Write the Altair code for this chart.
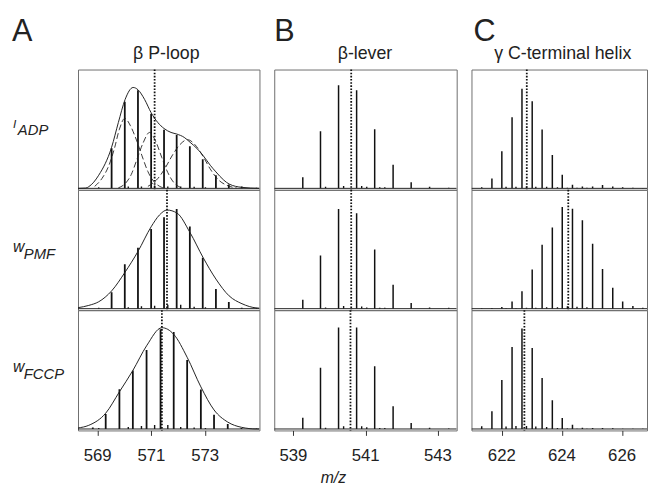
import altair as alt
import pandas as pd

FONT = "Liberation Sans"
PH = 122                # height of one panel row
YDOM = [-1.5, 120.5]    # intensity axis (arbitrary units)

# ---------------- Column A : beta P-loop ----------------
A_DOMAIN = [568.27, 575.02]
A_TICKS = [569, 571, 573]
A_MZ_12 = [569.52, 570.01, 570.50, 570.99, 571.47, 571.94, 572.43, 572.91, 573.40, 573.88, 574.36]
A1_INT = [40.7, 87.7, 99.4, 75.7, 59.4, 54.0, 42.7, 29.4, 13.4, 4.0, 2.0]
A2_INT = [16.7, 45.0, 61.7, 80.7, 92.7, 101.0, 83.3, 51.7, 20.0, 6.7, 1.0]
A_MZ_3 = [568.82, 569.30, 569.81, 570.31, 570.82, 571.34, 571.83, 572.33, 572.84, 573.33, 573.84, 574.35]
A3_INT = [1.5, 15.3, 40.3, 59.3, 80.0, 101.0, 98.3, 70.0, 40.0, 14.3, 5.0, 1.0]
A_SMALL_MZ = [569.04, 570.14, 570.63, 571.12, 571.61, 572.09, 572.59, 573.01, 574.91]
A1_SMALL = [1.0, 2.0, 2.0, 3.0, 2.0, 2.0, 1.5, 1.0, 0.5]
A2_SMALL = [1.0, 1.5, 2.5, 3.0, 4.0, 4.0, 2.0, 1.5, 1.0]
A3_SMALL = [1.0, 2.0, 3.0, 4.0, 4.0, 2.0, 1.5, 1.0, 0.5]

A1_ENV_MZ = [568.27, 568.56, 568.67, 569.04, 569.52, 569.77, 570.02, 570.32, 570.50, 570.75, 570.99,
             571.24, 571.47, 571.73, 571.95, 572.22, 572.44, 572.71, 572.92, 573.19, 573.40, 573.69,
             573.89, 574.37, 575.02]
A1_ENV_INT = [0.0, 0.3, 1.7, 13.3, 41.7, 66.7, 90.0, 102.3, 100.0, 90.0, 76.7,
              66.7, 60.7, 56.7, 55.0, 51.7, 46.7, 40.0, 33.4, 23.4, 16.7, 8.4,
              4.4, 1.0, 0.0]
A1_G1_MZ = [568.89, 569.16, 569.40, 569.62, 569.81, 570.01, 570.21, 570.43, 570.65, 570.87, 571.09, 571.31, 571.53]
A1_G1_INT = [2.0, 10.0, 22.0, 40.0, 60.0, 71.0, 64.0, 50.0, 33.0, 17.0, 7.0, 2.0, 0.0]
A1_G2_MZ = [569.77, 570.03, 570.25, 570.47, 570.69, 570.93, 571.17, 571.39, 571.61, 571.83, 572.08]
A1_G2_INT = [0.5, 5.0, 14.0, 30.0, 46.0, 56.7, 47.0, 31.0, 16.0, 6.0, 1.0]
A1_G3_MZ = [570.87, 571.24, 571.50, 571.79, 572.05, 572.34, 572.63, 572.93, 573.18, 573.48, 573.81, 574.17]
A1_G3_INT = [2.0, 10.0, 20.0, 34.0, 44.0, 49.4, 44.0, 32.0, 20.0, 9.0, 3.0, 0.5]

A2_ENV_MZ = [568.27, 568.67, 569.04, 569.52, 570.02, 570.50, 570.99, 571.30, 571.58, 571.95, 572.44,
             572.92, 573.40, 573.89, 574.37, 574.91, 575.02]
A2_ENV_INT = [1.0, 3.3, 7.0, 18.0, 37.0, 58.0, 83.0, 95.0, 100.0, 97.0, 77.0,
              52.0, 30.0, 13.0, 5.0, 0.7, 0.5]
A3_ENV_MZ = [568.27, 568.67, 569.30, 569.81, 570.31, 570.82, 571.39, 571.83, 572.33, 572.84,
             573.33, 573.84, 574.35, 574.91, 575.02]
A3_ENV_INT = [1.0, 3.7, 16.0, 37.7, 59.3, 84.3, 102.7, 96.0, 72.7, 42.7,
              19.3, 7.0, 1.7, 0.0, 0.0]
A_CENTROID = [571.12, 571.58, 571.39]

# ---------------- Column B : beta-lever ----------------
B_DOMAIN = [538.47, 543.52]
B_TICKS = [539, 541, 543]
B_MZ = [539.26, 539.75, 540.25, 540.75, 541.25, 541.76, 542.26, 542.77]
B1_INT = [11.3, 58.0, 104.6, 99.6, 60.0, 24.0, 6.3, 1.6]
B2_INT = [9.0, 54.0, 101.0, 96.7, 60.0, 24.3, 5.7, 1.3]
B3_INT = [11.3, 62.0, 103.0, 103.0, 63.7, 23.0, 6.0, 1.3]
B_SMALL_MZ = [539.89, 540.39, 540.89, 541.03, 541.39, 541.53, 543.3]
B1_SMALL = [1.5, 2.5, 2.5, 1.5, 1.0, 1.0, 0.5]
B2_SMALL = [1.3, 2.7, 2.3, 1.3, 1.0, 1.0, 1.0]
B3_SMALL = [1.3, 2.7, 2.7, 1.7, 1.0, 1.0, 0.5]
B_CENTROID = [540.60, 540.60, 540.58]

# ---------------- Column C : gamma C-terminal helix ----------------
C_DOMAIN = [620.99, 626.83]
C_TICKS = [622, 624, 626]
C_MZ = [621.33, 621.67, 622.00, 622.34, 622.67, 623.01, 623.34, 623.68, 624.01,
        624.35, 624.68, 625.02, 625.35, 625.69, 626.02, 626.36, 626.69]
C1_INT = [1.0, 10.0, 37.7, 72.0, 101.0, 88.4, 59.7, 33.7, 13.7, 3.7, 2.0, 2.0, 3.3, 2.0, 1.0, 0.7, 0.3]
C2_INT = [0.3, 0.7, 1.7, 7.3, 17.7, 39.7, 64.7, 82.3, 103.0, 101.3, 89.7, 65.7, 40.3, 21.3, 7.3, 2.7, 1.0]
C3_INT = [2.7, 18.0, 49.7, 83.0, 102.0, 82.0, 51.7, 29.0, 11.0, 4.3, 1.3, 1.0, 1.0, 0.7, 0.3, 0.3, 0.3]
C_SMALL_MZ = [622.14, 622.47, 622.82, 623.13, 623.49, 623.85, 624.18, 624.50, 624.83]
C1_SMALL = [1.5, 1.5, 2.0, 1.5, 1.5, 1.0, 0.5, 0.5, 0.5]
C2_SMALL = [0.3, 0.5, 0.8, 1.0, 1.5, 1.5, 2.5, 2.0, 1.5]
C3_SMALL = [2.5, 3.0, 3.0, 2.5, 2.0, 1.0, 0.5, 0.3, 0.3]
C_CENTROID = [622.83, 624.21, 622.75]

COL_TITLES = ["\u03b2 P-loop", "\u03b2-lever", "\u03b3 C-terminal helix"]
COL_LETTERS = ["A", "B", "C"]
ROW_MAIN = ["I", "w", "w"]
ROW_SUB = ["ADP", "PMF", "FCCP"]


def panel(domain, ticks, mz, inten, small_mz, small_int, centroid,
          bottom, curves=None, dashed=None, peak_w=1.6):
    xs = alt.Scale(domain=domain, nice=False, zero=False)
    ys = alt.Scale(domain=YDOM, nice=False, zero=False)
    if bottom:
        xaxis = alt.Axis(values=ticks, grid=False, domain=False, ticks=True, labels=False,
                         tickSize=5, tickColor="#333", tickWidth=1, title=None)
    else:
        xaxis = None

    def X(f):
        return alt.X(f, scale=xs, axis=xaxis, title=None)

    def Y(f):
        return alt.Y(f, scale=ys, axis=None)

    peaks = pd.DataFrame({"mz": mz, "inten": inten})
    smalls = pd.DataFrame({"mz": small_mz, "inten": small_int})
    layers = []
    layers.append(alt.Chart(peaks).mark_rule(color="#111", strokeWidth=peak_w, clip=True)
                  .encode(x=X("mz:Q"), y=Y("inten:Q"), y2=alt.Y2("base:Q"))
                  .transform_calculate(base="0"))
    layers.append(alt.Chart(smalls).mark_rule(color="#111", strokeWidth=1.4, clip=True)
                  .encode(x=X("mz:Q"), y=Y("inten:Q"), y2=alt.Y2("base:Q"))
                  .transform_calculate(base="0"))
    # spectrum baseline (intensity 0) across the whole window
    base = pd.DataFrame({"mz": domain, "inten": [0, 0]})
    layers.append(alt.Chart(base).mark_line(color="#222", strokeWidth=1, clip=True)
                  .encode(x=X("mz:Q"), y=Y("inten:Q")))
    if dashed:
        for cm, ci in dashed:
            d = pd.DataFrame({"mz": cm, "inten": ci})
            layers.append(alt.Chart(d).mark_line(color="#222", strokeWidth=0.9,
                                                 strokeDash=[6, 3], interpolate="monotone", clip=True)
                          .encode(x=X("mz:Q"), y=Y("inten:Q")))
    if curves:
        cm, ci = curves
        d = pd.DataFrame({"mz": cm, "inten": ci})
        layers.append(alt.Chart(d).mark_line(color="#222", strokeWidth=1,
                                             interpolate="monotone", clip=True)
                      .encode(x=X("mz:Q"), y=Y("inten:Q")))
    cen = pd.DataFrame({"mz": [centroid]})
    layers.append(alt.Chart(cen).mark_rule(color="#111", strokeWidth=1.8, strokeDash=[1.6, 1.6])
                  .encode(x=X("mz:Q")))
    if bottom:
        tk = pd.DataFrame({"tick": ticks})
        layers.append(alt.Chart(tk).mark_text(font=FONT, fontSize=17, color="#222",
                                              align="center", baseline="alphabetic")
                      .encode(x=X("tick:Q"), text=alt.Text("tick:Q", format="d"),
                              y=alt.value(PH + 30.5)))
    return layers


def text_layer(txt, x, y, size, align="left", style="normal"):
    return (alt.Chart(pd.DataFrame({"t": [txt]}))
            .mark_text(font=FONT, fontSize=size, fontStyle=style, align=align,
                       baseline="alphabetic", color="#222")
            .encode(text="t:N", x=alt.value(x), y=alt.value(y)))


cols_spec = [
    (A_DOMAIN, A_TICKS, 184,
     [(A_MZ_12, A1_INT, A1_SMALL), (A_MZ_12, A2_INT, A2_SMALL), (A_MZ_3, A3_INT, A3_SMALL)],
     A_SMALL_MZ, A_CENTROID, 1.8),
    (B_DOMAIN, B_TICKS, 185,
     [(B_MZ, B1_INT, B1_SMALL), (B_MZ, B2_INT, B2_SMALL), (B_MZ, B3_INT, B3_SMALL)],
     B_SMALL_MZ, B_CENTROID, 1.5),
    (C_DOMAIN, C_TICKS, 178,
     [(C_MZ, C1_INT, C1_SMALL), (C_MZ, C2_INT, C2_SMALL), (C_MZ, C3_INT, C3_SMALL)],
     C_SMALL_MZ, C_CENTROID, 1.5),
]
A_CURVES = [(A1_ENV_MZ, A1_ENV_INT), (A2_ENV_MZ, A2_ENV_INT), (A3_ENV_MZ, A3_ENV_INT)]
A_DASHED = [(A1_G1_MZ, A1_G1_INT), (A1_G2_MZ, A1_G2_INT), (A1_G3_MZ, A1_G3_INT)]

title_x = [89.5, 92, 92.5]
letter_x = [-67, 0, 2]

grid = [[None] * 3 for _ in range(3)]
for ci, (dom, ticks, w, rows, smz, cents, pw) in enumerate(cols_spec):
    for ri, (mz, inten, sm) in enumerate(rows):
        layers = panel(dom, ticks, mz, inten, smz, sm, cents[ri], bottom=(ri == 2),
                       curves=A_CURVES[ri] if ci == 0 else None,
                       dashed=A_DASHED if (ci == 0 and ri == 0) else None,
                       peak_w=pw)
        if ri == 0:
            layers.append(text_layer(COL_TITLES[ci], title_x[ci], -10.5, 18, align="center"))
            layers.append(text_layer(COL_LETTERS[ci], letter_x[ci], -29, 31))
        if ci == 0:
            layers.append(text_layer(ROW_MAIN[ri], -66, 59 if ri == 0 else 63,
                                     12 if ri == 0 else 16, style="italic"))
            layers.append(text_layer(ROW_SUB[ri], -61 if ri == 0 else -55, 66 if ri == 0 else 70,
                                     15, style="italic"))
        if ci == 0 and ri == 0:
            # invisible frame anchor fixing the figure's top-left margin
            layers.append(alt.Chart(pd.DataFrame({"a": [0]}))
                          .mark_rule(opacity=0, strokeWidth=1)
                          .encode(x=alt.value(-70.5), y=alt.value(-58.5), y2=alt.value(0)))
        if ci == 1 and ri == 2:
            layers.append(text_layer("m/z", 60, 175, 16, align="center", style="italic"))
        grid[ri][ci] = alt.layer(*layers).properties(width=w, height=PH)

cells = [grid[r][c] for r in range(3) for c in range(3)]
chart = (alt.concat(*cells, columns=3, spacing={"row": 0, "column": 15},
                    bounds="flush", align="each")
         .properties(padding={"left": 0, "top": 0, "right": 0, "bottom": 0})
         .configure_view(stroke="#6e6e6e", strokeWidth=1))

chart.save("out.html", embed_options={"renderer": "svg", "actions": False})
